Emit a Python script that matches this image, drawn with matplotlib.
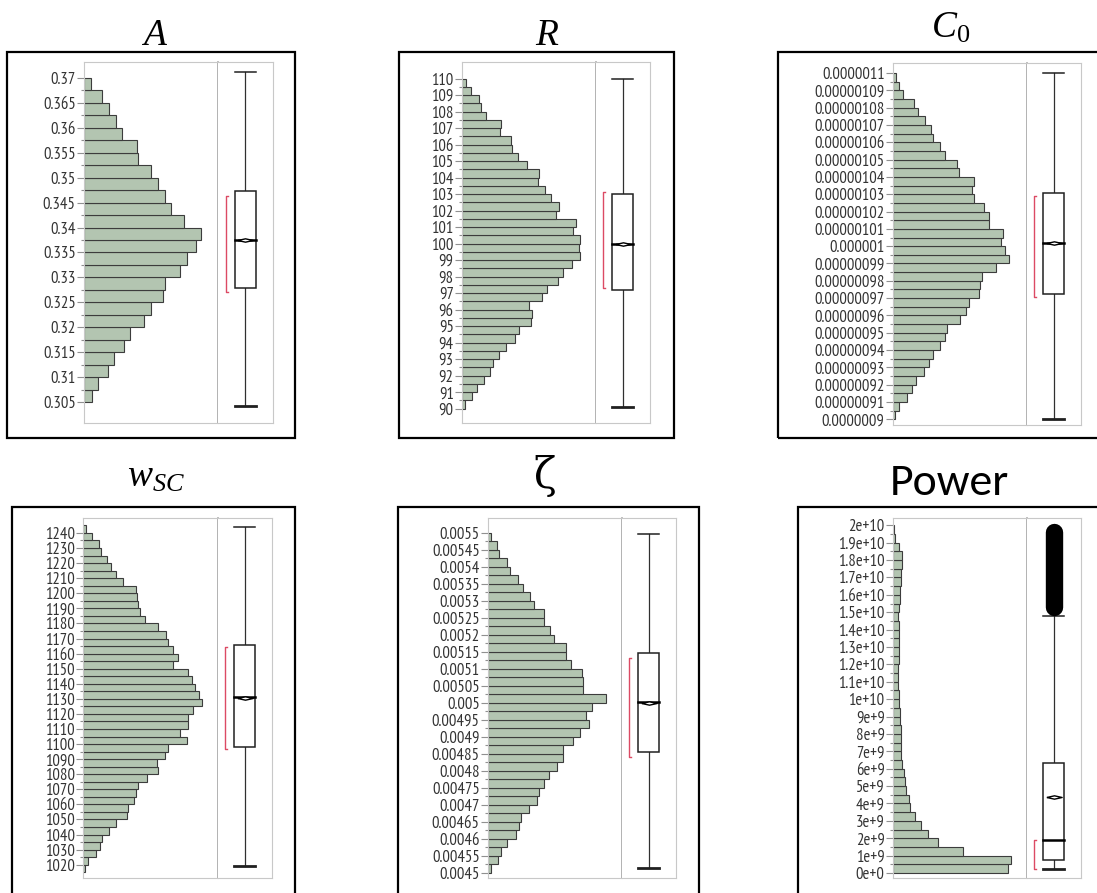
import matplotlib
matplotlib.use('Agg')
import matplotlib.pyplot as plt
from matplotlib.patches import Rectangle
from matplotlib.ticker import FixedLocator, FixedFormatter

plt.rcParams['mathtext.fontset'] = 'custom'
plt.rcParams['mathtext.it'] = 'Liberation Serif:italic'
plt.rcParams['mathtext.rm'] = 'Liberation Serif'

# ---- data (bin counts listed bottom -> top) ----
a_ticks = ['0.305', '0.31', '0.315', '0.32', '0.325', '0.33', '0.335', '0.34',
           '0.345', '0.35', '0.355', '0.36', '0.365', '0.37']
a_bin_start, a_bin_width = 0.305, 0.0025
a_counts = [25, 41, 73, 91, 121, 138, 181, 201, 238, 243, 288, 311, 336, 353,
            300, 263, 243, 223, 201, 163, 158, 115, 95, 76, 53, 21]
a_box = [0.3042, 0.3278, 0.3375, 0.3474, 0.3711]
a_mean, a_bracket = 0.3375, [0.3270, 0.3463]

r_ticks = [str(v) for v in range(90, 111)]
r_bin_start, r_bin_width = 90, 0.5
r_counts = [10, 30, 45, 65, 83, 93, 110, 132, 160, 172, 207, 210, 203, 242, 257,
            290, 305, 330, 355, 352, 355, 333, 343, 282, 293, 267, 250, 230, 233,
            195, 167, 150, 147, 115, 118, 72, 57, 50, 27, 12]
r_box = [90.1, 97.17, 100.0, 103.03, 110.0]
r_mean, r_bracket = 100.0, [97.3, 103.1]

c_ticks = ['0.0000009', '0.00000091', '0.00000092', '0.00000093', '0.00000094',
           '0.00000095', '0.00000096', '0.00000097', '0.00000098', '0.00000099',
           '0.000001', '0.00000101', '0.00000102', '0.00000103', '0.00000104',
           '0.00000105', '0.00000106', '0.00000107', '0.00000108', '0.00000109',
           '0.0000011']
c_bin_start, c_bin_width = 0.9e-6, 0.005e-6
c_counts = [5, 18, 42, 57, 70, 93, 107, 120, 142, 157, 163, 200, 220, 230, 260,
            262, 267, 310, 350, 337, 325, 330, 290, 290, 273, 245, 238, 243, 197,
            192, 157, 142, 120, 115, 97, 75, 62, 30, 18, 8]
c_box = [0.90025e-6, 0.97225e-6, 1.0017e-6, 1.0306e-6, 1.1e-6]
c_mean, c_bracket = 1.0017e-6, [0.9704e-6, 1.0287e-6]

w_ticks = [str(v) for v in range(1020, 1241, 10)]
w_bin_start, w_bin_width = 1015, 5
w_counts = [5, 15, 38, 50, 58, 77, 100, 130, 135, 153, 157, 163, 192, 225, 220,
            245, 253, 310, 290, 312, 312, 328, 355, 347, 333, 325, 312, 270, 285,
            270, 253, 248, 225, 185, 170, 165, 162, 158, 118, 100, 85, 72, 55,
            47, 28, 8]
w_box = [1018.9, 1098.3, 1130.9, 1165.6, 1244.0]
w_mean, w_bracket = 1130.5, [1096.5, 1164.5]

z_ticks = ['0.0045', '0.00455', '0.0046', '0.00465', '0.0047', '0.00475',
           '0.0048', '0.00485', '0.0049', '0.00495', '0.005', '0.00505',
           '0.0051', '0.00515', '0.0052', '0.00525', '0.0053', '0.00535',
           '0.0054', '0.00545', '0.0055']
z_bin_start, z_bin_width = 0.0045, 0.000025
z_counts = [9, 29, 39, 57, 85, 92, 99, 122, 147, 152, 167, 182, 209, 227, 227,
            257, 277, 304, 295, 312, 354, 287, 287, 282, 249, 234, 234, 199, 187,
            167, 167, 137, 127, 105, 90, 65, 57, 34, 27, 10]
z_box = [0.004513, 0.004855, 0.005002, 0.005148, 0.005498]
z_mean, z_bracket = 0.005, [0.00484, 0.005131]

p_ticks = ['0e+0', '1e+9', '2e+9', '3e+9', '4e+9', '5e+9', '6e+9', '7e+9', '8e+9',
           '9e+9', '1e+10', '1.1e+10', '1.2e+10', '1.3e+10', '1.4e+10', '1.5e+10',
           '1.6e+10', '1.7e+10', '1.8e+10', '1.9e+10', '2e+10']
p_bin_start, p_bin_width = 0.0, 0.5e9
p_counts = [347, 354, 212, 135, 105, 84, 65, 52, 49, 39, 37, 32, 27, 24, 24, 25,
            24, 22, 20, 17, 17, 14, 14, 15, 17, 17, 17, 17, 17, 15, 17, 22, 22,
            24, 25, 27, 27, 19, 7, 4]
p_box = [0.21e9, 0.73e9, 1.92e9, 6.33e9, 14.77e9]
p_mean, p_bracket = 4.39e9, [0.21e9, 1.92e9]
p_outliers = [1.53e10, 1.96e10]

W, H = 1097, 893
fig = plt.figure(figsize=(W / 100, H / 100), dpi=100)

bar_face = '#b3c5b1'
bar_edge = '#3c3c3c'
frame_light = '#c8c8c8'
frame_dark = '#a6a6a6'
red = '#dc4a64'
tick_font = ['PT Sans Narrow', 'Open Sans Condensed', 'DejaVu Sans']


def fig_rect(x0, y0, x1, y1):
    return [x0 / W, 1 - y1 / H, (x1 - x0) / W, (y1 - y0) / H]


def outer_frame(x0, y0, x1, y1):
    fig.add_artist(Rectangle((x0 / W, 1 - y1 / H), (x1 - x0) / W, (y1 - y0) / H,
                             transform=fig.transFigure, fill=False,
                             ec='black', lw=1.6))


def panel(px, ylim, ticks, bin_start, bin_width, counts, box, mean, bracket,
          outliers=None):
    x0, x1, x2, y0, y1 = px
    ah = fig.add_axes(fig_rect(x0, y0, x1, y1))
    ab = fig.add_axes(fig_rect(x1, y0, x2, y1))

    edges = [bin_start + i * bin_width for i in range(len(counts))]
    ah.barh(edges, counts, height=bin_width, align='edge', color=bar_face,
            edgecolor=bar_edge, linewidth=0.8)
    ah.set_xlim(0, 403)
    ah.set_ylim(*ylim)
    ah.set_xticks([])
    tv = [float(t) for t in ticks]
    ah.yaxis.set_major_locator(FixedLocator(tv))
    ah.yaxis.set_major_formatter(FixedFormatter(ticks))
    minors = [(tv[i] + tv[i + 1]) / 2 for i in range(len(tv) - 1)]
    ah.yaxis.set_minor_locator(FixedLocator(minors))
    ah.tick_params(axis='y', which='major', length=5, width=0.8, color='#909090',
                   pad=1, labelsize=12, labelcolor='#333333')
    ah.tick_params(axis='y', which='minor', length=2.5, width=0.8, color='#909090')
    for lab in ah.get_yticklabels():
        lab.set_family(tick_font)
    for s in ('left', 'top', 'bottom'):
        ah.spines[s].set_color(frame_light)
    ah.spines['right'].set_color(frame_dark)
    ah.spines['right'].set_linewidth(1.2)

    ab.set_xlim(0, 55)
    ab.set_ylim(*ylim)
    ab.set_xticks([])
    ab.set_yticks([])
    for s in ('right', 'top', 'bottom'):
        ab.spines[s].set_color(frame_light)
    ab.spines['left'].set_visible(False)

    wlo, q1, med, q3, whi = box
    bl, br, cx = 16.5, 38.0, 27.25
    ab.plot([cx, cx], [q3, whi], color='#303030', lw=0.9, zorder=2)
    ab.plot([cx, cx], [wlo, q1], color='#303030', lw=0.9, zorder=2)
    ab.plot([bl, br], [whi, whi], color='#202020', lw=1.1, zorder=3)
    ab.plot([bl, br], [wlo, wlo], color='#202020', lw=2.0, zorder=3)
    ab.add_patch(Rectangle((bl, q1), br - bl, q3 - q1, facecolor='white',
                           edgecolor='#202020', lw=1.1, zorder=3))
    ab.plot([bl, br], [med, med], color='black', lw=1.8, zorder=4)
    ab.plot([cx], [mean], marker=[(-1, 0), (0, 0.22), (1, 0), (0, -0.22), (-1, 0)],
            markersize=11, markerfacecolor='white', markeredgecolor='black',
            markeredgewidth=1.0, zorder=5)
    ab.plot([9.5, 7.5, 7.5, 9.5], [bracket[0], bracket[0], bracket[1], bracket[1]],
            color=red, lw=1.0, zorder=3)
    if outliers is not None:
        ab.plot([cx, cx], outliers, color='black', lw=12.5,
                solid_capstyle='round', zorder=4)
    return ah, ab


# top row
outer_frame(7, 52, 295, 438)
outer_frame(399, 52, 674, 438)
outer_frame(778, 52, 1105, 438)
# bottom row
outer_frame(12, 507, 295, 905)
outer_frame(398, 507, 699, 905)
outer_frame(798, 507, 1105, 905)

panel((84, 218, 273, 62, 423), (0.3008, 0.3732), a_ticks, a_bin_start,
      a_bin_width, a_counts, a_box, a_mean, a_bracket)
panel((462, 596, 650, 62, 423), (89.13, 111.0), r_ticks, r_bin_start,
      r_bin_width, r_counts, r_box, r_mean, r_bracket)
panel((893, 1027, 1081, 63, 425), (0.89672e-6, 1.10578e-6), c_ticks, c_bin_start,
      c_bin_width, c_counts, c_box, c_mean, c_bracket)
panel((83, 218, 272, 518, 878), (1011.2, 1249.9), w_ticks, w_bin_start,
      w_bin_width, w_counts, w_box, w_mean, w_bracket)
panel((488, 622, 676, 518, 878), (0.004485, 0.005544), z_ticks, z_bin_start,
      z_bin_width, z_counts, z_box, z_mean, z_bracket)
panel((893, 1027, 1081, 518, 878), (-0.288e9, 2.042e10), p_ticks, p_bin_start,
      p_bin_width, p_counts, p_box, p_mean, p_bracket, outliers=p_outliers)

# titles
serif = dict(fontsize=27, ha='center', va='baseline', color='black')
fig.text(155 / W, 1 - 45 / H, r'$A$', **serif)
fig.text(547 / W, 1 - 45 / H, r'$R$', **serif)
fig.text(951 / W, 1 - 38 / H, r'$C_{\mathrm{0}}$', **serif)
fig.text(156 / W, 1 - 487 / H, r'$w_{SC}$', **serif)
fig.text(545 / W, 1 - 488 / H, 'ζ', fontsize=30, ha='center', va='baseline',
         family=['Caladea', 'DejaVu Serif'])
fig.text(949 / W, 1 - 495 / H, 'Power', fontsize=33, ha='center',
         va='baseline', family=['Carlito', 'DejaVu Sans'])

fig.savefig('out.png', dpi=100)
